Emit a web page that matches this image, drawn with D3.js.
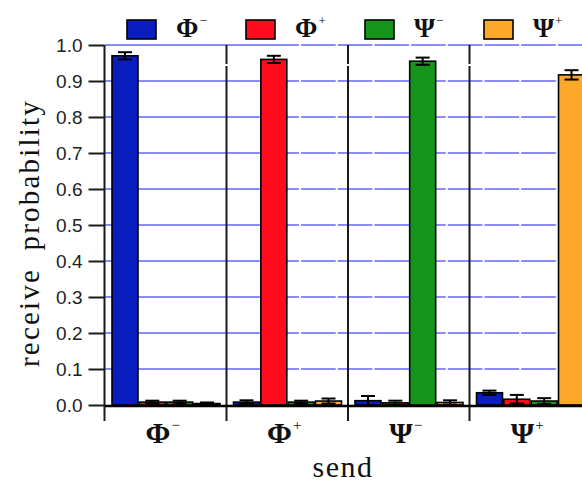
<!DOCTYPE html>
<html>
<head>
<meta charset="utf-8">
<script src="https://cdn.jsdelivr.net/npm/d3@7/dist/d3.min.js"></script>
<style>
  html, body { margin: 0; padding: 0; background: #fff; }
  svg { display: block; }
</style>
</head>
<body>
<svg id="chart" width="582" height="482"></svg>
<script>
// Bell states that are sent (groups on the x axis) and received (bar series)
const sendStates = ["Φ-", "Φ+", "Ψ-", "Ψ+"];
const stateSymbol = ["Φ", "Φ", "Ψ", "Ψ"];
const stateSign = ["−", "+", "−", "+"];
const receiveStates = ["Φ-", "Φ+", "Ψ-", "Ψ+"];

// Receive probability per sent state, one array per received state
const recvPhiMinus = [0.970, 0.008, 0.012, 0.034];
const recvPhiPlus  = [0.008, 0.960, 0.006, 0.016];
const recvPsiMinus = [0.008, 0.008, 0.955, 0.011];
const recvPsiPlus  = [0.004, 0.011, 0.007, 0.917];

// Statistical uncertainty of each probability
const errPhiMinus = [0.010, 0.005, 0.013, 0.006];
const errPhiPlus  = [0.004, 0.010, 0.006, 0.012];
const errPsiMinus = [0.004, 0.004, 0.010, 0.008];
const errPsiPlus  = [0.003, 0.007, 0.006, 0.013];

const yTicks = [0, 0.1, 0.2, 0.3, 0.4, 0.5, 0.6, 0.7, 0.8, 0.9, 1.0];

const seriesColors = ["#0a1ec0", "#fe0c1e", "#16951b", "#fba82b"];
const values = [recvPhiMinus, recvPhiPlus, recvPsiMinus, recvPsiPlus];
const errors = [errPhiMinus, errPhiPlus, errPsiMinus, errPsiPlus];

const svg = d3.select("#chart");
const serif = "'Liberation Serif', 'Times New Roman', serif";
const sans = "'Liberation Sans', Arial, sans-serif";

const plotLeft = 105, plotRight = 591, plotTop = 45, plotBottom = 405;

const x0 = d3.scaleBand().domain(sendStates).range([plotLeft, plotRight]).padding(0);
const x1 = d3.scaleBand().domain(receiveStates).range([7, 115]).paddingInner(0.05);
const y = d3.scaleLinear().domain([0, 1]).range([plotBottom, plotTop]);

// Horizontal grid lines
const gridDash = [194, 2].concat(d3.range(12).flatMap(() => [34.7, 2])).join(" ");
svg.append("g").selectAll("line")
  .data(yTicks.filter(t => t > 0))
  .join("line")
  .attr("x1", plotLeft).attr("x2", 582)
  .attr("y1", d => y(d)).attr("y2", d => y(d))
  .attr("stroke", "#8a8aff").attr("stroke-width", 2)
  .attr("stroke-dasharray", gridDash);

// Separators between send groups
svg.append("g").selectAll("line")
  .data(sendStates.slice(1))
  .join("line")
  .attr("x1", d => x0(d)).attr("x2", d => x0(d))
  .attr("y1", y(1)).attr("y2", plotBottom + 1)
  .attr("stroke", "#1a1a1a").attr("stroke-width", 2)
  .attr("stroke-dasharray", "19 2 1000");

// Bars
const rows = [];
sendStates.forEach((s, gi) => {
  receiveStates.forEach((r, si) => {
    rows.push({ send: s, recv: r, si, v: values[si][gi], e: errors[si][gi] });
  });
});

const groups = svg.append("g").selectAll("g")
  .data(sendStates)
  .join("g")
  .attr("transform", d => `translate(${x0(d)},0)`);

groups.selectAll("rect")
  .data(s => rows.filter(r => r.send === s))
  .join("rect")
  .attr("x", d => x1(d.recv))
  .attr("width", x1.bandwidth())
  .attr("y", d => y(d.v))
  .attr("height", d => y(0) - y(d.v))
  .attr("fill", d => seriesColors[d.si])
  .attr("stroke", "#000").attr("stroke-width", 1.6);

// Error bars
const capHalf = 7;
const eb = groups.selectAll("g.err")
  .data(s => rows.filter(r => r.send === s))
  .join("g").attr("class", "err")
  .attr("stroke", "#000").attr("stroke-width", 2);
eb.append("line")
  .attr("x1", d => x1(d.recv) + x1.bandwidth() / 2)
  .attr("x2", d => x1(d.recv) + x1.bandwidth() / 2)
  .attr("y1", d => y(Math.max(0, d.v - d.e)))
  .attr("y2", d => y(d.v + d.e));
eb.append("line")
  .attr("x1", d => x1(d.recv) + x1.bandwidth() / 2 - capHalf)
  .attr("x2", d => x1(d.recv) + x1.bandwidth() / 2 + capHalf)
  .attr("y1", d => y(d.v + d.e)).attr("y2", d => y(d.v + d.e));
eb.append("line")
  .attr("x1", d => x1(d.recv) + x1.bandwidth() / 2 - capHalf)
  .attr("x2", d => x1(d.recv) + x1.bandwidth() / 2 + capHalf)
  .attr("y1", d => y(Math.max(0, d.v - d.e))).attr("y2", d => y(Math.max(0, d.v - d.e)));

// Y axis
const yAxis = svg.append("g")
  .attr("transform", `translate(${plotLeft - 0.5},0)`)
  .call(d3.axisLeft(y).tickValues(yTicks).tickFormat(d3.format(".1f")).tickSize(16).tickPadding(6).tickSizeOuter(0));
yAxis.select(".domain").remove();
yAxis.selectAll(".tick line").attr("stroke", "#1a1a1a").attr("stroke-width", 2);
yAxis.selectAll(".tick text")
  .attr("font-family", sans).attr("font-size", 19).attr("fill", "#222");
svg.append("line")
  .attr("x1", plotLeft - 0.5).attr("x2", plotLeft - 0.5)
  .attr("y1", y(1)).attr("y2", plotBottom + 16)
  .attr("stroke", "#1a1a1a").attr("stroke-width", 2);

// X axis baseline and group boundary ticks
svg.append("line")
  .attr("x1", plotLeft).attr("x2", 582)
  .attr("y1", plotBottom + 1).attr("y2", plotBottom + 1)
  .attr("stroke", "#000").attr("stroke-width", 2.5);
svg.append("g").selectAll("line")
  .data(sendStates.slice(1))
  .join("line")
  .attr("x1", d => x0(d)).attr("x2", d => x0(d))
  .attr("y1", plotBottom + 1).attr("y2", plotBottom + 16)
  .attr("stroke", "#1a1a1a").attr("stroke-width", 2);

// Group labels
const gl = svg.append("g").selectAll("text")
  .data(sendStates)
  .join("text")
  .attr("x", d => x0(d) + x0.bandwidth() / 2 - 3)
  .attr("y", 443)
  .attr("text-anchor", "middle")
  .attr("font-family", serif).attr("font-weight", "bold").attr("font-size", 30)
  .attr("fill", "#111");
gl.append("tspan").text((d, i) => stateSymbol[i]);
gl.append("tspan").attr("dy", -13).attr("dx", 1).attr("font-size", 15).attr("font-weight", "normal")
  .text((d, i) => stateSign[i]);

// Axis titles
svg.append("text")
  .attr("transform", "translate(39,233) rotate(-90)")
  .attr("text-anchor", "middle")
  .attr("font-family", serif).attr("font-size", 29)
  .attr("letter-spacing", 2.2).attr("word-spacing", 8)
  .attr("fill", "#111")
  .text("receive probability");

svg.append("text")
  .attr("x", 343).attr("y", 477)
  .attr("text-anchor", "middle")
  .attr("font-family", serif).attr("font-size", 30)
  .attr("letter-spacing", 1.5)
  .attr("fill", "#111")
  .text("send");

// Legend
const legend = svg.append("g").selectAll("g")
  .data(receiveStates)
  .join("g")
  .attr("transform", (d, i) => `translate(${127 + i * 119},0)`);
legend.append("rect")
  .attr("x", 0).attr("y", 20).attr("width", 29).attr("height", 19)
  .attr("fill", (d, i) => seriesColors[i])
  .attr("stroke", "#000").attr("stroke-width", 1.6);
const lt = legend.append("text")
  .attr("x", 49).attr("y", 37)
  .attr("font-family", serif).attr("font-weight", "bold").attr("font-size", 27)
  .attr("fill", "#111");
lt.append("tspan").text((d, i) => stateSymbol[i]);
lt.append("tspan").attr("dy", -12).attr("dx", 1).attr("font-size", 13).attr("font-weight", "normal")
  .text((d, i) => stateSign[i]);
</script>
</body>
</html>
